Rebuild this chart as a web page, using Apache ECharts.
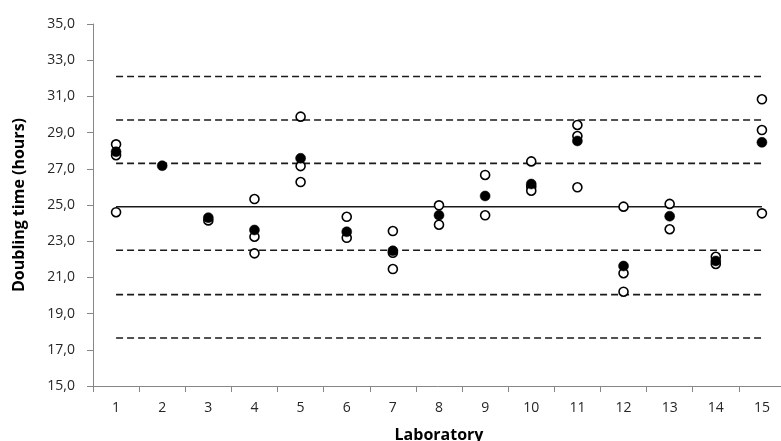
<!DOCTYPE html>
<html>
<head>
<meta charset="utf-8">
<script src="https://cdn.jsdelivr.net/npm/echarts@6/dist/echarts.min.js"></script>
<style>html,body{margin:0;padding:0;background:#fff}#c{width:781px;height:441px}</style>
</head>
<body>
<div id="c"></div>
<script>
const categories = ['1','2','3','4','5','6','7','8','9','10','11','12','13','14','15'];
const yTicks = {min: 15, max: 35, interval: 2};
const meanValue = 24.9;
const sdLineValues = [32.1, 29.7, 27.3, 22.5, 20.05, 17.65];
// individual replicate values (open circles): [laboratory, value]
const replicateValues = [
  ['1', 28.35], ['1', 27.75], ['1', 24.6],
  ['3', 24.15],
  ['4', 25.33], ['4', 23.25], ['4', 22.33],
  ['5', 29.88], ['5', 27.15], ['5', 26.27],
  ['6', 24.35], ['6', 23.19],
  ['7', 23.56], ['7', 22.36], ['7', 21.46],
  ['8', 24.98], ['8', 23.91],
  ['9', 26.66], ['9', 24.43],
  ['10', 27.41], ['10', 26.01], ['10', 25.79],
  ['11', 29.42], ['11', 28.81], ['11', 25.98],
  ['12', 24.91], ['12', 21.23], ['12', 20.21],
  ['13', 25.06], ['13', 23.66],
  ['14', 22.14], ['14', 21.74],
  ['15', 30.84], ['15', 29.14], ['15', 24.54]
];
// laboratory mean values (filled circles)
const labMeans = [
  ['1', 27.94], ['2', 27.17], ['3', 24.3], ['4', 23.62], ['5', 27.58],
  ['6', 23.52], ['7', 22.47], ['8', 24.43], ['9', 25.5], ['10', 26.16],
  ['11', 28.54], ['12', 21.63], ['13', 24.38], ['14', 21.91], ['15', 28.46]
];

const first = categories[0], last = categories[categories.length - 1];
const lineColor = '#1a1a1a';
const series = [];
sdLineValues.forEach((v, i) => {
  series.push({
    type: 'line', name: 'sd' + i, data: [[first, v], [last, v]],
    symbol: 'none', silent: true, z: 1,
    lineStyle: {color: lineColor, width: 1.6, type: [7, 4]}
  });
});
series.push({
  type: 'line', name: 'mean', data: [[first, meanValue], [last, meanValue]],
  symbol: 'none', silent: true, z: 1,
  lineStyle: {color: lineColor, width: 1.6}
});
series.push({
  type: 'scatter', name: 'replicates', data: replicateValues, z: 3,
  symbol: 'circle', symbolSize: 9,
  itemStyle: {color: '#fff', borderColor: '#000', borderWidth: 1.6, opacity: 1}
});
series.push({
  type: 'scatter', name: 'means', data: labMeans, z: 4,
  symbol: 'circle', symbolSize: 10,
  itemStyle: {color: '#000', borderColor: '#000', borderWidth: 0.5, opacity: 1}
});

const chart = echarts.init(document.getElementById('c'), null, {renderer: 'canvas'});
chart.setOption({
  animation: false,
  backgroundColor: '#fff',
  textStyle: {fontFamily: 'Open Sans'},
  grid: {left: 93, right: -4, top: 24, bottom: 55, containLabel: false, outerBoundsMode: 'none'},
  xAxis: {
    type: 'category', data: categories, boundaryGap: true,
    name: 'Laboratory', nameLocation: 'middle', nameGap: 41,
    nameTextStyle: {fontFamily: 'Open Sans', fontWeight: 'bold', fontSize: 16, color: '#000'},
    axisLine: {lineStyle: {color: '#868686', width: 1}},
    axisTick: {show: true, length: 6, lineStyle: {color: '#868686'}},
    axisLabel: {color: '#262626', fontSize: 14, margin: 15, fontFamily: 'Open Sans'},
    splitLine: {show: false}
  },
  yAxis: {
    type: 'value', min: yTicks.min, max: yTicks.max, interval: yTicks.interval,
    name: 'Doubling time (hours)', nameLocation: 'middle', nameGap: 66, nameRotate: 90,
    nameTextStyle: {fontFamily: 'Open Sans', fontWeight: 'bold', fontSize: 16, color: '#000'},
    axisLine: {show: true, lineStyle: {color: '#868686', width: 1}},
    axisTick: {show: true, length: 6, lineStyle: {color: '#868686'}},
    axisLabel: {color: '#262626', fontSize: 14, margin: 18, fontFamily: 'Open Sans',
      formatter: v => v.toFixed(1).replace('.', ',')},
    splitLine: {show: false}
  },
  series: series
});
</script>
</body>
</html>
